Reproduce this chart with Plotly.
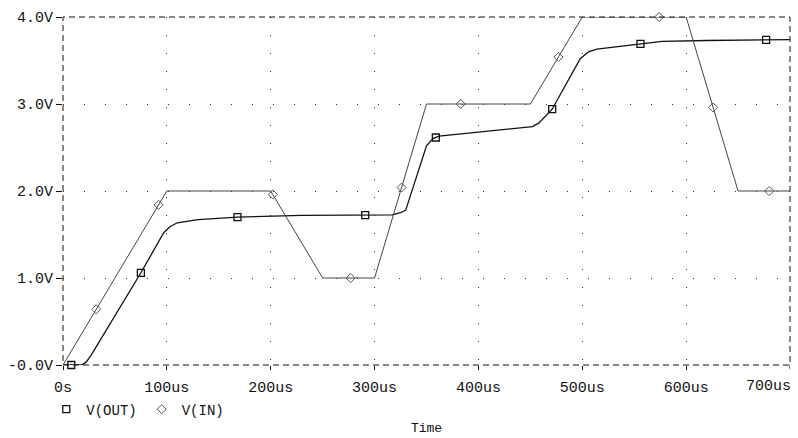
import numpy as np
import plotly.graph_objects as go

# ---- data (time in us, volts) ----
t_in = [0, 100, 200, 250, 300, 350, 450, 500, 600, 650, 700]
v_in = [0, 2.0, 2.0, 1.0, 1.0, 3.0, 3.0, 4.0, 4.0, 2.0, 2.0]

t_out = [0, 18, 22, 27, 75, 97, 103, 110, 130, 168, 230, 317, 325, 330, 350, 356,
         362, 400, 452, 458, 464, 471, 498, 506, 514, 535, 556, 577, 620, 700]
v_out = [0, 0, 0.03, 0.11, 1.06, 1.52, 1.59, 1.635, 1.67, 1.70, 1.72, 1.725, 1.75,
         1.78, 2.52, 2.60, 2.63, 2.68, 2.74, 2.78, 2.85, 2.94, 3.52, 3.60, 3.63,
         3.66, 3.69, 3.72, 3.73, 3.74]

mk_t_in = [32, 92, 202, 277, 326, 383, 477, 574, 626, 680]
mk_t_out = [8, 75, 168, 291, 359, 471, 556, 677]

x_ticks = [0, 100, 200, 300, 400, 500, 600]
x_labels = ["0s", "100us", "200us", "300us", "400us", "500us", "600us"]
x_last_tick = 700
x_last_label = "700us"
y_ticks = [0, 1, 2, 3, 4]
y_labels = ["-0.0V", "1.0V", "2.0V", "3.0V", "4.0V"]

FONT = "Liberation Mono"

mk_v_in = np.interp(mk_t_in, t_in, v_in)
mk_v_out = np.interp(mk_t_out, t_out, v_out)

fig = go.Figure()
fig.add_trace(go.Scatter(x=t_out, y=v_out, mode="lines", showlegend=False,
                         line=dict(color="#111111", width=1.3), hoverinfo="skip"))
fig.add_trace(go.Scatter(x=t_in, y=v_in, mode="lines", showlegend=False,
                         line=dict(color="#444444", width=1), hoverinfo="skip"))
fig.add_trace(go.Scatter(x=mk_t_out, y=mk_v_out, mode="markers", name="V(OUT)",
                         cliponaxis=False,
                         marker=dict(symbol="square-open", size=7, color="#111111",
                                     line=dict(width=1.3))))
fig.add_trace(go.Scatter(x=mk_t_in, y=mk_v_in, mode="markers", name="V(IN)",
                         cliponaxis=False,
                         marker=dict(symbol="diamond-open", size=7, color="#555555",
                                     line=dict(width=1))))

fig.update_layout(
    width=798, height=438,
    margin=dict(l=63, r=8, t=17, b=73),
    paper_bgcolor="white", plot_bgcolor="white",
    font=dict(family=FONT, size=14, color="#111111"),
    showlegend=True,
    legend=dict(orientation="h", x=-0.023, xanchor="left", y=-0.128, yanchor="middle",
                font=dict(family=FONT, size=14), itemwidth=30,
                bgcolor="rgba(0,0,0,0)"),
    xaxis=dict(range=[0, 700], tickvals=x_ticks, ticktext=x_labels, automargin=False,
               showgrid=True, gridcolor="#333333", gridwidth=1, griddash="1px,17px",
               zeroline=False, showline=False, ticks="outside", ticklen=4,
               ticklabelstandoff=4,
               tickcolor="#111111", tickfont=dict(family=FONT, size=15),
               title=dict(text="Time", font=dict(family=FONT, size=13), standoff=26)),
    yaxis=dict(range=[0, 4], tickvals=y_ticks, ticktext=y_labels, automargin=False,
               showgrid=True, gridcolor="#333333", gridwidth=1, griddash="1px,20px",
               zeroline=False, showline=False, ticks="outside", ticklen=6,
               tickcolor="#111111", tickfont=dict(family=FONT, size=15)),
    shapes=[dict(type="rect", xref="paper", yref="paper", x0=0, x1=1, y0=0, y1=1,
                 line=dict(color="#111111", width=1, dash="6px,4px"), layer="above")],
    annotations=[dict(x=1, y=0, xref="paper", yref="paper", text=x_last_label,
                      showarrow=False, xanchor="right", yanchor="top", yshift=-11,
                      xshift=3, font=dict(family=FONT, size=15))],
)
fig.add_shape(type="line", xref="x", yref="paper", x0=x_last_tick, x1=x_last_tick,
              y0=0, y1=-0.012, line=dict(color="#111111", width=1))

fig.write_html("out.html", config={"displayModeBar": False},
               post_script="document.body.style.margin='0px';"
                           "document.body.style.overflow='hidden';")
